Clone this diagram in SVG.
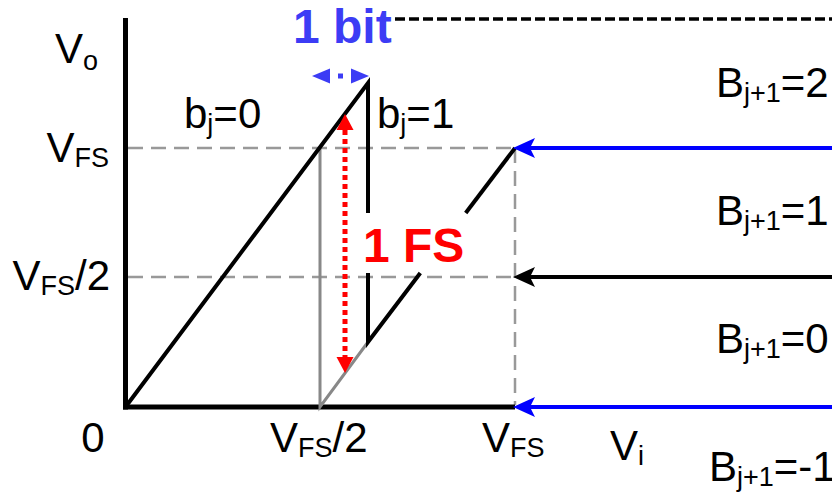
<svg xmlns="http://www.w3.org/2000/svg" width="832" height="496" viewBox="0 0 832 496">
<style>
text{font-family:"Liberation Sans",Arial,sans-serif;font-size:42px;fill:#000}
.sub{font-size:27px}
.bold{font-weight:bold;font-size:48px}
.axis{stroke:#000;stroke-width:5;fill:none}
.curve{stroke:#000;stroke-width:4;fill:none;stroke-linejoin:miter;stroke-miterlimit:20}
.grey{stroke:#888;stroke-width:3;fill:none}
.guide{stroke:#999;stroke-width:2.5;fill:none;stroke-dasharray:15 8}
.conn{stroke-width:4;fill:none}
</style>
<defs>
<marker id="headBlue" markerUnits="userSpaceOnUse" markerWidth="22" markerHeight="20" refX="5" refY="10" orient="auto" overflow="visible">
<path d="M0,0 L22,10 L0,20 L5,10 Z" fill="#0000ff"/>
</marker>
<marker id="headBlack" markerUnits="userSpaceOnUse" markerWidth="22" markerHeight="20" refX="5" refY="10" orient="auto" overflow="visible">
<path d="M0,0 L22,10 L0,20 L5,10 Z" fill="#000"/>
</marker>
<marker id="headRed" markerUnits="userSpaceOnUse" markerWidth="16" markerHeight="17" refX="0" refY="8.5" orient="auto-start-reverse" overflow="visible">
<path d="M0,0 L16,8.5 L0,17 Z" fill="#ff0000"/>
</marker>
<marker id="headBit" markerUnits="userSpaceOnUse" markerWidth="18" markerHeight="15" refX="0" refY="7.5" orient="auto-start-reverse" overflow="visible">
<path d="M0,0 L18,7.5 L0,15 Z" fill="#3c3cf5"/>
</marker>
</defs>

<g id="guides">
<line class="guide" x1="128" y1="148" x2="515" y2="148"/>
<line class="guide" x1="128" y1="277" x2="515" y2="277"/>
<line class="guide" x1="515" y1="148" x2="515" y2="405"/>
</g>

<g id="axes">
<line class="axis" x1="125.5" y1="18" x2="125.5" y2="409.5"/>
<line class="axis" x1="123" y1="407" x2="515" y2="407"/>
</g>

<g id="transfer">
<polyline class="grey" points="320,148 320,407 368,342"/>
<polyline class="curve" points="125.5,407 368,83 368,213"/>
<polyline class="curve" points="368,273 368,342 420.3,273"/>
<line class="curve" x1="465.7" y1="213" x2="515" y2="148"/>
</g>

<g id="connectors">
<line x1="395" y1="19" x2="832" y2="19" stroke="#000" stroke-width="3.5" stroke-dasharray="10 4"/>
<line class="conn" x1="832" y1="148" x2="530" y2="148" stroke="#0000ff" marker-end="url(#headBlue)"/>
<line class="conn" x1="832" y1="277" x2="530" y2="277" stroke="#000" marker-end="url(#headBlack)"/>
<line class="conn" x1="832" y1="407" x2="530" y2="407" stroke="#0000ff" marker-end="url(#headBlue)"/>
<line x1="345" y1="130" x2="345" y2="357" stroke="#ff0000" stroke-width="5" stroke-dasharray="5 4" marker-start="url(#headRed)" marker-end="url(#headRed)"/>
<line x1="330" y1="76" x2="351" y2="76" stroke="#3c3cf5" stroke-width="5" stroke-dasharray="0 8 5 8" marker-start="url(#headBit)" marker-end="url(#headBit)"/>
</g>

<g id="labels">
<text x="55" y="63">V<tspan class="sub" dy="7">o</tspan></text>
<text x="109" y="162" text-anchor="end">V<tspan class="sub" dy="5">FS</tspan></text>
<text x="110" y="290" text-anchor="end">V<tspan class="sub" dy="5">FS</tspan><tspan dy="-5">/2</tspan></text>
<text x="93" y="452" text-anchor="middle">0</text>
<text x="270" y="452">V<tspan class="sub" dy="5">FS</tspan><tspan dy="-5">/2</tspan></text>
<text x="482" y="452">V<tspan class="sub" dy="5">FS</tspan></text>
<text x="610" y="460">V<tspan class="sub" dy="5">i</tspan></text>
<text x="184" y="128">b<tspan class="sub" dy="5">j</tspan><tspan dy="-5">=0</tspan></text>
<text x="377" y="128">b<tspan class="sub" dy="5">j</tspan><tspan dy="-5">=1</tspan></text>
<text x="716" y="97">B<tspan class="sub" dy="5">j+1</tspan><tspan dy="-5">=2</tspan></text>
<text x="716" y="225">B<tspan class="sub" dy="5">j+1</tspan><tspan dy="-5">=1</tspan></text>
<text x="716" y="353">B<tspan class="sub" dy="5">j+1</tspan><tspan dy="-5">=0</tspan></text>
<text x="709" y="481">B<tspan class="sub" dy="5">j+1</tspan><tspan dy="-5">=-1</tspan></text>
<text class="bold" x="293" y="43" style="fill:#3c3cf5">1 bit</text>
<text class="bold" x="363" y="262" style="fill:#ff0000">1 FS</text>
</g>
</svg>
